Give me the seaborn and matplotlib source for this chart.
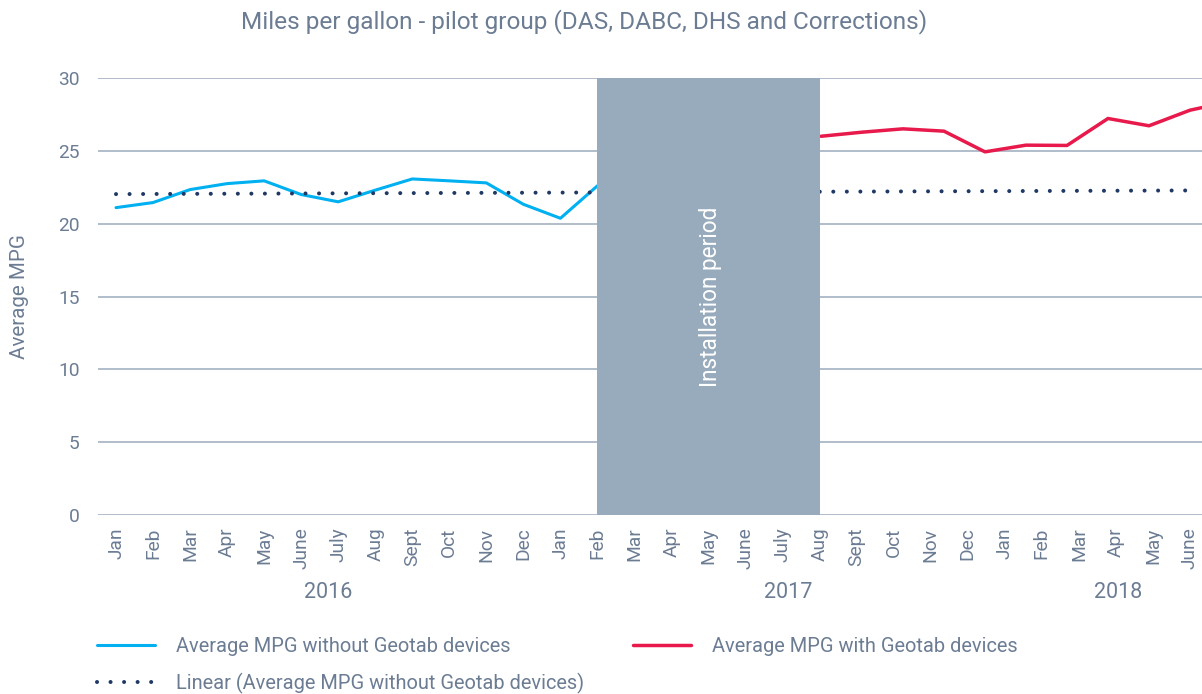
import numpy as np
import pandas as pd
import seaborn as sns
import matplotlib.pyplot as plt
import matplotlib.transforms as mtransforms

# month categories (Jan 2016 .. June 2018)
months = ['Jan', 'Feb', 'Mar', 'Apr', 'May', 'June', 'July', 'Aug', 'Sept', 'Oct', 'Nov', 'Dec',
          'Jan', 'Feb', 'Mar', 'Apr', 'May', 'June', 'July', 'Aug', 'Sept', 'Oct', 'Nov', 'Dec',
          'Jan', 'Feb', 'Mar', 'Apr', 'May', 'June']
years = ['2016', '2017', '2018']
year_pos = [5.74, 18.15, 27.06]

# MPG without Geotab (Jan 2016 - Feb 2017)
mpg_without = [21.1, 21.45, 22.34, 22.75, 22.94, 22.0, 21.5, 22.3, 23.07, 22.94, 22.8, 21.33, 20.37, 22.6]
# MPG with Geotab (after installation period)
mpg_with = [26.0, 26.28, 26.51, 26.35, 24.93, 25.39, 25.37, 27.22, 26.72, 27.79, 28.4]
# linear trend of MPG without Geotab, first and last month
trend_vals = [22.03, 22.28]

install_start, install_end = 13, 19   # Feb 2017 .. Aug 2017

TXT = '#6b7c93'
GRID = '#aab8c6'
BLUE = '#00b0f0'
RED = '#e8194b'
NAVY = '#1f3864'
BOX = '#97abbc'

sns.set_theme(style='white')
plt.rcParams['font.family'] = ['Roboto', 'DejaVu Sans']

fig = plt.figure(figsize=(12.02, 6.94), dpi=100)
W, H = 1202, 694
ax = fig.add_axes([97.5 / W, 1 - 515 / H, (1202 - 97.5) / W, 437 / H])

df_without = pd.DataFrame({'m': np.arange(len(mpg_without)), 'mpg': mpg_without})
sns.lineplot(data=df_without, x='m', y='mpg', ax=ax, color=BLUE, linewidth=2.2, zorder=2)
df_trend = pd.DataFrame({'m': [0, len(months) - 1], 'mpg': trend_vals})
sns.lineplot(data=df_trend, x='m', y='mpg', ax=ax, color=NAVY, linewidth=2.9,
             linestyle=(0, (0.01, 3.35)), dash_capstyle='round', zorder=2)

ax.set_xlim(-0.5, 29.5 - 6.5 / 37.03)
ax.set_ylim(0, 30)
ax.set_yticks(range(0, 31, 5))
ax.set_xticks(range(len(months)))
ax.set_xticklabels(months, rotation=90, fontsize=13.8, color=TXT)
ax.tick_params(axis='y', labelsize=13.8, labelcolor=TXT, pad=13, length=0)
ax.tick_params(axis='x', pad=9, length=0)
ax.grid(axis='y', color=GRID, linewidth=1.3, zorder=0)
ax.set_axisbelow(True)
for s in ax.spines.values():
    s.set_visible(False)
ax.set_xlabel('')
ax.set_ylabel('Average MPG', fontsize=14.8, color=TXT)
ax.yaxis.set_label_coords(-(97.5 - 29) / 1104.5, 0.5)

# red series sits on its own category spacing (secondary axis)
ax2 = ax.twiny()
df_with = pd.DataFrame({'m': np.arange(len(mpg_with)), 'mpg': mpg_with})
sns.lineplot(data=df_with, x='m', y='mpg', ax=ax2, color=RED, linewidth=2.5, zorder=2)
ax2.set_xlim(-(821 - 97.5) / 41, (1202 - 821) / 41)
ax2.set_ylim(0, 30)
ax2.set_xticks([])
ax2.set_xlabel('')
ax2.set_ylabel('')
for s in ax2.spines.values():
    s.set_visible(False)

# installation period box, drawn over both series
tr = mtransforms.blended_transform_factory(ax.transData, ax.transAxes)
patch = plt.Rectangle((install_start, 0), install_end - install_start, 1, transform=tr,
                      color=BOX, lw=0, zorder=5)
ax2.add_patch(patch)
ax2.text((install_start + install_end) / 2 + 0.05, 0.5, 'Installation period', transform=tr,
         rotation=90, ha='center', va='center', color='white', fontsize=16.3, zorder=6)

# year labels
for y, p in zip(years, year_pos):
    ax.text(p, -0.178, y, transform=tr, ha='center', va='center', fontsize=15.5, color=TXT)

fig.text(584 / W, 1 - 22 / H, 'Miles per gallon - pilot group (DAS, DABC, DHS and Corrections)',
         ha='center', va='center', fontsize=17.6, color=TXT)

handles = [ax.get_lines()[0], ax.get_lines()[1], ax2.get_lines()[0]]
labels = ['Average MPG without Geotab devices',
          'Linear (Average MPG without Geotab devices)',
          'Average MPG with Geotab devices']
leg = fig.legend(handles, labels, ncol=2, loc='upper left', bbox_to_anchor=(97 / W, 1 - 637 / H),
                 frameon=False, fontsize=14.4, handlelength=2.9, handletextpad=1.05,
                 columnspacing=2.45, labelspacing=0.85, borderpad=0, borderaxespad=0)
for t in leg.get_texts():
    t.set_color(TXT)

fig.savefig('out.png', dpi=100)
